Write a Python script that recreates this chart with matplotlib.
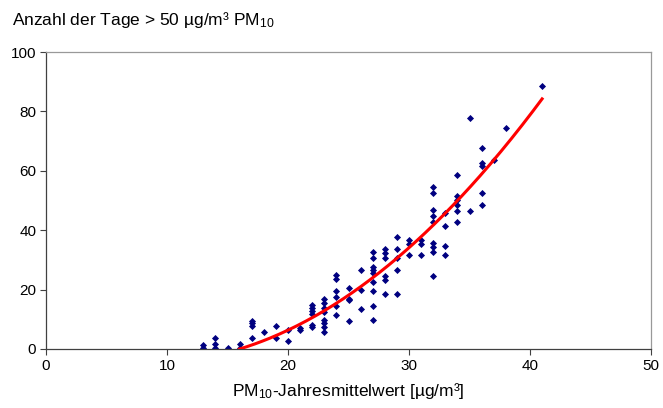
import matplotlib
matplotlib.use('Agg')
import matplotlib.pyplot as plt
import numpy as np

plt.rcParams['font.family'] = ['Liberation Sans', 'DejaVu Sans']
plt.rcParams['mathtext.fontset'] = 'custom'
plt.rcParams['mathtext.rm'] = 'Liberation Sans'
plt.rcParams['mathtext.it'] = 'Liberation Sans:italic'

# PM10 annual mean [ug/m3] and number of days > 50 ug/m3
pm10_mean = [13, 13,
             14, 14, 14,
             15,
             16, 16,
             17, 17, 17, 17,
             18,
             19, 19,
             20, 20,
             21, 21,
             22, 22, 22, 22, 22, 22,
             23, 23, 23, 23, 23, 23, 23, 23,
             24, 24, 24, 24, 24, 24,
             25, 25, 25, 25,
             26, 26, 26,
             27, 27, 27, 27, 27, 27, 27, 27, 27,
             28, 28, 28, 28, 28, 28,
             29, 29, 29, 29, 29,
             30, 30, 30,
             31, 31, 31,
             32, 32, 32, 32, 32, 32, 32, 32, 32,
             33, 33, 33, 33,
             34, 34, 34, 34, 34, 34,
             35, 35,
             36, 36, 36, 36, 36,
             37,
             38,
             41]
days_over = [1.5, 0.3,
             3.7, 1.7, 0.3,
             0.5,
             1.7, 0.3,
             9.5, 8.6, 7.7, 3.6,
             5.6,
             7.6, 3.6,
             6.4, 2.7,
             7.2, 6.4,
             14.8, 13.8, 12.8, 11.8, 8.0, 7.4,
             16.7, 15.4, 13.7, 12.6, 9.8, 8.7, 7.4, 5.6,
             24.9, 23.5, 19.6, 17.6, 14.5, 11.6,
             20.6, 17.0, 16.5, 9.5,
             26.6, 20.0, 13.6,
             32.7, 30.5, 27.7, 26.6, 25.5, 22.7, 19.6, 14.5, 9.8,
             33.8, 32.4, 30.5, 24.5, 23.3, 18.5,
             37.7, 33.6, 30.5, 26.6, 18.5,
             36.6, 35.4, 31.6,
             36.6, 35.4, 31.6,
             54.6, 52.6, 46.7, 44.7, 42.8, 35.6, 34.4, 32.6, 24.6,
             45.7, 41.5, 34.7, 31.5,
             58.6, 51.6, 50.2, 48.5, 46.6, 42.6,
             77.7, 46.6,
             67.6, 62.7, 61.5, 52.6, 48.6,
             63.6,
             74.5,
             88.6]

# 2nd order trend line, coefficients
trend_coef = [0.0848, -1.465, 1.73]
trend_start = 16.0
trend_end = 41.0

fig = plt.figure(figsize=(6.63, 4.08), dpi=100)
ax = fig.add_axes([46 / 663, 59 / 408, 605 / 663, 297 / 408])

ax.scatter(pm10_mean, days_over, marker='D', s=13, color='#000080', linewidths=0, zorder=2)

tx = np.linspace(trend_start, trend_end, 200)
ax.plot(tx, np.polyval(trend_coef, tx), color='#ff0000', lw=2.2, zorder=3)

ax.set_xlim(0, 50)
ax.set_ylim(0, 100)
ax.set_xticks([0, 10, 20, 30, 40, 50])
ax.set_yticks([0, 20, 40, 60, 80, 100])
ax.tick_params(direction='out', length=4, width=0.8, color='#404040',
               labelsize=11, pad=3)

for side in ['left', 'bottom']:
    ax.spines[side].set_color('#404040')
    ax.spines[side].set_linewidth(0.9)
for side in ['top', 'right']:
    ax.spines[side].set_color('#999999')
    ax.spines[side].set_linewidth(0.9)

fig.text(12 / 663, 1 - 20 / 408, 'Anzahl der Tage > 50 µg/m³ PM$_{10}$',
         fontsize=12.5, ha='left', va='center')
ax.set_xlabel('PM$_{10}$-Jahresmittelwert [µg/m³]', fontsize=12.5, labelpad=6)

fig.savefig('out.png', dpi=100)
